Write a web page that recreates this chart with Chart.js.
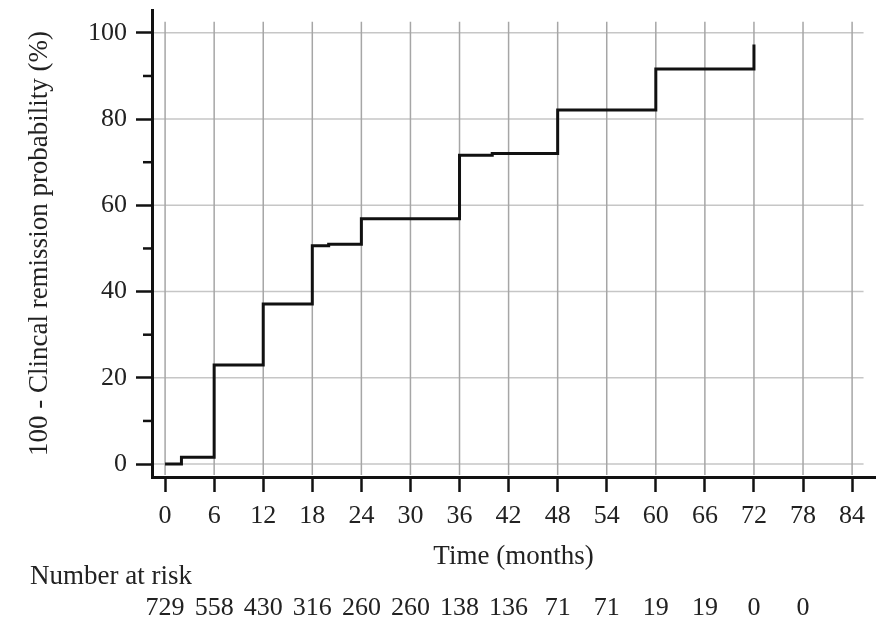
<!DOCTYPE html>
<html>
<head>
<meta charset="utf-8">
<title>Clinical remission</title>
<script src="https://cdn.jsdelivr.net/npm/chart.js@4.4.1/dist/chart.umd.min.js"></script>
<style>
  body { margin: 0; background: #fff; }
  #wrap { width: 882px; height: 619px; }
</style>
</head>
<body>
<div id="wrap"><canvas id="km-chart" width="882" height="619"></canvas></div>
<script>
// step curve
const months = [0, 2, 6, 12, 18, 20, 24, 36, 40, 48, 60, 72];
const probability = [0, 1.6, 23.0, 37.1, 50.6, 51.0, 56.9, 71.6, 72.0, 82.1, 91.6, 97.3];

const xTicks = [0, 6, 12, 18, 24, 30, 36, 42, 48, 54, 60, 66, 72, 78, 84];
const yTicks = [0, 20, 40, 60, 80, 100];
const yMinorTicks = [10, 30, 50, 70, 90];

const riskMonths = [0, 6, 12, 18, 24, 30, 36, 42, 48, 54, 60, 66, 72, 78];
const numberAtRisk = [729, 558, 430, 316, 260, 260, 138, 136, 71, 71, 19, 19, 0, 0];

const FONT = 'Liberation Serif';
const TEXT = '#222';

let myChart;

const extras = {
  id: 'extras',
  beforeDatasetsDraw(chart) {
    const { ctx, chartArea, scales: { x, y } } = chart;
    ctx.save();
    ctx.lineWidth = 1.5;
    ctx.strokeStyle = '#c6c6c6';
    yTicks.forEach(v => {
      const py = y.getPixelForValue(v);
      ctx.beginPath();
      ctx.moveTo(chartArea.left + 2, py);
      ctx.lineTo(x.getPixelForValue(85.4), py);
      ctx.stroke();
    });
    ctx.strokeStyle = '#a6a6a6';
    xTicks.forEach(v => {
      const px = x.getPixelForValue(v);
      ctx.beginPath();
      ctx.moveTo(px, y.getPixelForValue(102.6));
      ctx.lineTo(px, chartArea.bottom - 2);
      ctx.stroke();
    });
    ctx.restore();
  },
  afterDraw(chart) {
    const { ctx, chartArea, scales: { x, y } } = chart;
    ctx.save();
    // short ticks between the labelled ones
    ctx.strokeStyle = '#111';
    ctx.lineWidth = 2.5;
    yMinorTicks.forEach(v => {
      const py = y.getPixelForValue(v);
      ctx.beginPath();
      ctx.moveTo(chartArea.left - 9, py);
      ctx.lineTo(chartArea.left, py);
      ctx.stroke();
    });

    ctx.fillStyle = TEXT;
    ctx.font = '27px "' + FONT + '"';
    ctx.textBaseline = 'alphabetic';
    ctx.textAlign = 'left';
    ctx.fillText('Number at risk', 30, 584);
    ctx.font = '26px "' + FONT + '"';
    ctx.textAlign = 'center';
    riskMonths.forEach((m, i) => {
      ctx.fillText(String(numberAtRisk[i]), x.getPixelForValue(m), 615);
    });
    ctx.restore();
  }
};

function createChart() {
  const ctx = document.getElementById('km-chart').getContext('2d');
  if (myChart) myChart.destroy();

  myChart = new Chart(ctx, {
    type: 'line',
    data: {
      datasets: [{
        label: '100 - Clincal remission probability',
        data: months.map((m, i) => ({ x: m, y: probability[i] })),
        borderColor: '#111',
        borderWidth: 3,
        pointRadius: 0,
        stepped: true,
        fill: false
      }]
    },
    options: {
      responsive: false,
      animation: false,
      layout: { padding: { left: 0, right: 7, top: 10, bottom: 0 } },
      plugins: {
        legend: { display: false },
        tooltip: { enabled: false }
      },
      scales: {
        x: {
          type: 'linear',
          min: -1.6,
          max: 86.8,
          afterBuildTicks: s => { s.ticks = xTicks.map(v => ({ value: v })); },
          afterFit: s => { s.height = 142; s.paddingLeft = 0; s.paddingRight = 0; },
          border: { color: '#111', width: 3 },
          grid: {
            drawOnChartArea: false,
            tickLength: 15,
            tickWidth: 2.5,
            tickColor: '#111'
          },
          ticks: {
            color: TEXT,
            padding: 9,
            maxRotation: 0,
            font: { family: FONT, size: 26 }
          },
          title: {
            display: true,
            text: 'Time (months)',
            color: TEXT,
            font: { family: FONT, size: 27 },
            padding: { top: 0, bottom: 46 }
          }
        },
        y: {
          min: -3.0,
          max: 105.3,
          afterBuildTicks: s => { s.ticks = yTicks.map(v => ({ value: v })); },
          afterFit: s => { s.width = 152; s.paddingTop = 0; s.paddingBottom = 0; },
          border: { color: '#111', width: 3 },
          grid: {
            drawOnChartArea: false,
            tickLength: 16,
            tickWidth: 2.5,
            tickColor: '#111'
          },
          ticks: {
            color: TEXT,
            padding: 9,
            font: { family: FONT, size: 26 }
          },
          title: {
            display: true,
            text: '100 - Clincal remission probability (%)',
            color: TEXT,
            font: { family: FONT, size: 27 },
            padding: { top: 24, bottom: 0 }
          }
        }
      }
    },
    plugins: [extras]
  });
}

window.onload = function () {
  createChart();
};
</script>
</body>
</html>
